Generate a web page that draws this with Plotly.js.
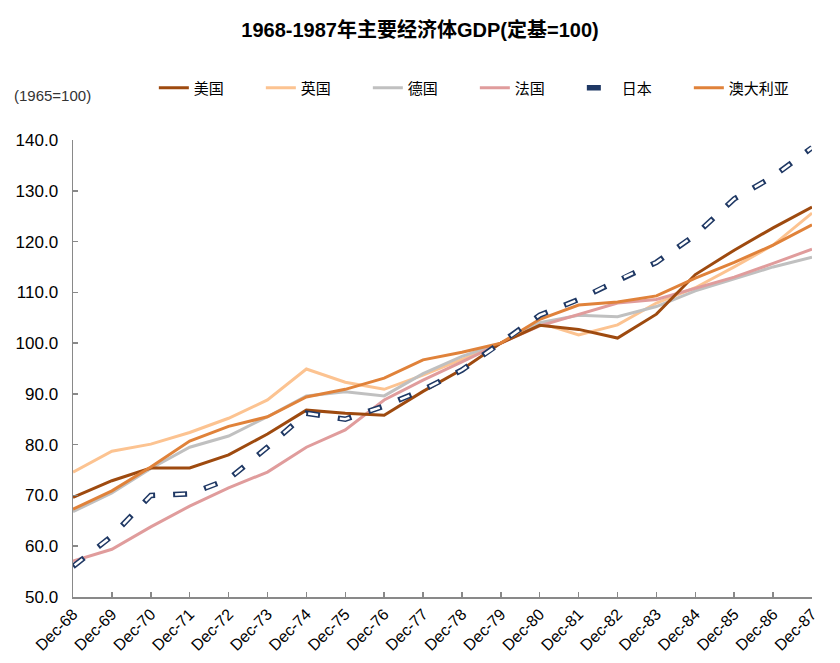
<!DOCTYPE html>
<html>
<head>
<meta charset="utf-8">
<script src="https://cdn.plot.ly/plotly-3.0.1.min.js"></script>
<style>
  html, body { margin: 0; padding: 0; background: #ffffff; }
  #chart { width: 840px; height: 663px; }
</style>
</head>
<body>
<div id="chart"></div>
<script>
var categories = ["Dec-68","Dec-69","Dec-70","Dec-71","Dec-72","Dec-73","Dec-74","Dec-75","Dec-76","Dec-77",
                  "Dec-78","Dec-79","Dec-80","Dec-81","Dec-82","Dec-83","Dec-84","Dec-85","Dec-86","Dec-87"];
var usa       = [69.6, 72.9, 75.4, 75.4, 78.0, 82.1, 86.8, 86.2, 85.8, 90.5, 94.8, 100.0, 103.5, 102.7, 101.0, 105.7, 113.5, 118.3, 122.7, 126.8];
var uk        = [74.6, 78.7, 80.1, 82.4, 85.2, 88.8, 94.9, 92.3, 90.9, 93.7, 96.8, 100.0, 104.0, 101.6, 103.6, 107.9, 110.9, 115.0, 119.3, 125.6];
var germany   = [66.8, 70.5, 75.3, 79.5, 81.7, 85.5, 89.6, 90.4, 89.6, 94.0, 97.4, 100.0, 104.0, 105.5, 105.2, 107.2, 110.3, 112.7, 115.0, 116.9];
var france    = [57.1, 59.4, 63.8, 67.9, 71.5, 74.6, 79.5, 82.9, 88.8, 92.7, 96.3, 100.0, 103.4, 105.6, 107.9, 108.6, 110.8, 113.0, 115.7, 118.5];
var japan     = [56.0, 62.0, 70.0, 70.3, 73.2, 79.5, 86.2, 85.0, 87.6, 90.8, 94.7, 100.0, 105.5, 108.6, 112.4, 115.9, 121.3, 128.4, 132.8, 138.5];
var australia = [67.3, 70.9, 75.6, 80.7, 83.6, 85.5, 89.4, 90.9, 93.1, 96.7, 98.2, 100.0, 104.7, 107.5, 108.1, 109.3, 112.8, 115.9, 119.3, 123.3];

var FONT = "Liberation Sans, Arial, 'Noto Sans CJK SC', sans-serif";

function line(name, y, color, rank, width) {
  return {
    type: 'scatter', mode: 'lines', name: name, x: categories, y: y,
    line: {color: color, width: width || 3},
    legendrank: rank, cliponaxis: false, hoverinfo: 'skip'
  };
}

var traces = [
  line('英国', uk, '#FCC391', 2),
  line('德国', germany, '#C0C0C0', 3),
  line('法国', france, '#E09C9C', 4),
  line('美国', usa, '#9E4A0F', 1),
  line('澳大利亚', australia, '#E0823A', 6),
  {
    type: 'scatter', mode: 'lines', name: '日本', x: categories, y: japan,
    line: {color: '#1F3864', width: 5.5, dash: '14px,18px'},
    legendrank: 5, cliponaxis: false, hoverinfo: 'skip'
  },
  {
    type: 'scatter', mode: 'lines', name: '日本', x: categories, y: japan,
    line: {color: '#ffffff', width: 2.5, dash: '0px,2px,10px,20px'},
    showlegend: false, cliponaxis: false, hoverinfo: 'skip'
  }
];

var layout = {
  width: 840, height: 663, autosize: false,
  paper_bgcolor: '#ffffff', plot_bgcolor: '#ffffff',
  margin: {l: 73, r: 28, t: 140, b: 66, pad: 0},
  font: {family: FONT, color: '#000000', size: 14},
  title: {
    text: '<b>1968-1987年主要经济体GDP(定基=100)</b>',
    font: {family: FONT, size: 20, color: '#000000'},
    x: 0.5, xref: 'container', xanchor: 'center',
    y: 0.955, yref: 'container', yanchor: 'middle'
  },
  xaxis: {
    type: 'category', range: [0, 19], autorange: false,
    showline: true, linecolor: '#898989', linewidth: 1.5,
    ticks: 'inside', ticklen: 5, tickwidth: 1.5, tickcolor: '#898989',
    tickangle: -45, tickfont: {family: FONT, size: 16, color: '#000000'},
    showgrid: false, zeroline: false, fixedrange: true
  },
  yaxis: {
    range: [50, 140], autorange: false, dtick: 10, tick0: 50, tickformat: '.1f',
    showline: true, linecolor: '#898989', linewidth: 1.5,
    ticks: 'inside', ticklen: 5, tickwidth: 1.5, tickcolor: '#898989',
    tickfont: {family: FONT, size: 17, color: '#000000'},
    ticklabelstandoff: 10,
    showgrid: false, zeroline: false, fixedrange: true
  },
  legend: {
    orientation: 'h', x: 0.1094, xanchor: 'left', y: 1.114, yanchor: 'middle',
    entrywidth: 62, entrywidthmode: 'pixels', traceorder: 'normal',
    font: {family: FONT, size: 15, color: '#000000'},
    bgcolor: 'rgba(0,0,0,0)'
  },
  annotations: [{
    text: '(1965=100)', xref: 'paper', yref: 'paper',
    x: -0.0825, y: 1.098, xanchor: 'left', yanchor: 'middle',
    showarrow: false, font: {family: FONT, size: 15, color: '#333333'}
  }],
  showlegend: true
};

Plotly.newPlot('chart', traces, layout, {staticPlot: true, displayModeBar: false});
</script>
</body>
</html>
